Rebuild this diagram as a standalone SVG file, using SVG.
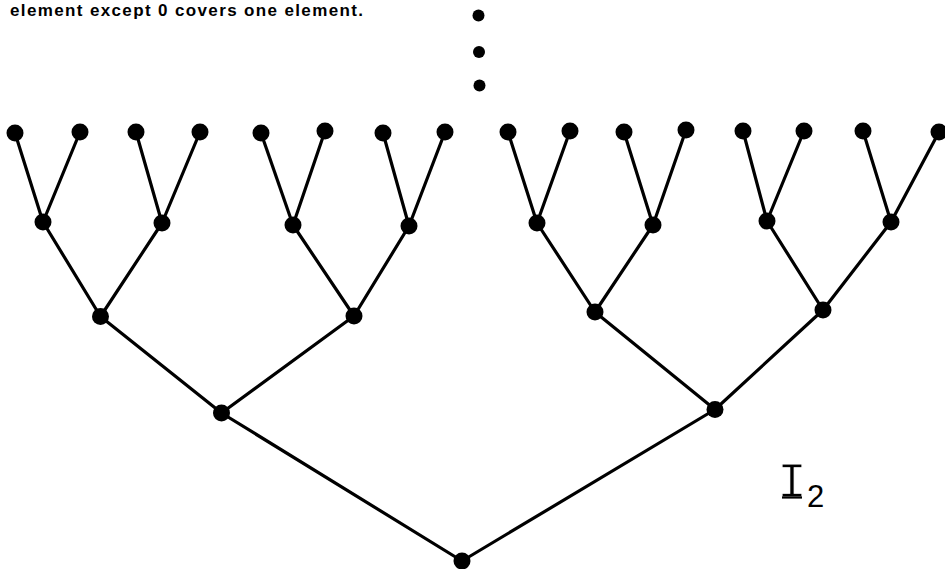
<svg xmlns="http://www.w3.org/2000/svg" width="945" height="569" viewBox="0 0 945 569">
  <style>
    .edge { stroke: #000; stroke-width: 3.2; stroke-linecap: round; fill: none; }
    .node { fill: #000; }
    .caption { font-family: "Liberation Sans", Arial, sans-serif; font-weight: bold; font-size: 17px; fill: #000; }
    .label { font-family: "Liberation Mono", "Courier New", monospace; font-size: 50px; fill: #000; stroke: #fff; stroke-width: 1.2; }
    .sub { font-family: "Liberation Sans", Arial, sans-serif; font-size: 31px; fill: #000; }
  </style>

  <rect width="945" height="569" fill="#fff"/>

  <text class="caption" x="10" y="16" textLength="353" lengthAdjust="spacing">element except 0 covers one element.</text>

  <!-- ellipsis: the tree continues upward -->
  <g id="ellipsis">
    <circle class="node" cx="478.5" cy="15.5" r="6"/>
    <circle class="node" cx="479" cy="52" r="6"/>
    <circle class="node" cx="479.5" cy="85.5" r="6"/>
  </g>

  <g id="connectors">
    <!-- leaves to level 1 -->
    <line class="edge" x1="15" y1="133" x2="43" y2="222"/>
    <line class="edge" x1="80" y1="132" x2="43" y2="222"/>
    <line class="edge" x1="136" y1="132" x2="162" y2="223"/>
    <line class="edge" x1="200" y1="132" x2="162" y2="223"/>
    <line class="edge" x1="261" y1="133" x2="293" y2="225"/>
    <line class="edge" x1="325" y1="131" x2="293" y2="225"/>
    <line class="edge" x1="383" y1="133" x2="409" y2="226"/>
    <line class="edge" x1="445" y1="132" x2="409" y2="226"/>
    <line class="edge" x1="508" y1="132" x2="537" y2="223"/>
    <line class="edge" x1="570" y1="131" x2="537" y2="223"/>
    <line class="edge" x1="624" y1="132" x2="653" y2="225"/>
    <line class="edge" x1="686" y1="130" x2="653" y2="225"/>
    <line class="edge" x1="743" y1="131" x2="767" y2="221"/>
    <line class="edge" x1="804" y1="131" x2="767" y2="221"/>
    <line class="edge" x1="863" y1="131" x2="891" y2="222"/>
    <line class="edge" x1="939" y1="132" x2="891" y2="222"/>
    <!-- level 1 to level 2 -->
    <line class="edge" x1="43" y1="222" x2="100.5" y2="316.5"/>
    <line class="edge" x1="162" y1="223" x2="100.5" y2="316.5"/>
    <line class="edge" x1="293" y1="225" x2="354" y2="316"/>
    <line class="edge" x1="409" y1="226" x2="354" y2="316"/>
    <line class="edge" x1="537" y1="223" x2="595" y2="312"/>
    <line class="edge" x1="653" y1="225" x2="595" y2="312"/>
    <line class="edge" x1="767" y1="221" x2="823" y2="310"/>
    <line class="edge" x1="891" y1="222" x2="823" y2="310"/>
    <!-- level 2 to level 3 -->
    <line class="edge" x1="100.5" y1="316.5" x2="221.5" y2="413"/>
    <line class="edge" x1="354" y1="316" x2="221.5" y2="413"/>
    <line class="edge" x1="595" y1="312" x2="715" y2="409.5"/>
    <line class="edge" x1="823" y1="310" x2="715" y2="409.5"/>
    <!-- level 3 to root -->
    <line class="edge" x1="221.5" y1="413" x2="462" y2="561"/>
    <line class="edge" x1="715" y1="409.5" x2="462" y2="561"/>
  </g>

  <!-- leaves -->
  <g id="leaf-1"><circle class="node" cx="15" cy="133" r="8.5"/></g>
  <g id="leaf-2"><circle class="node" cx="80" cy="132" r="8.5"/></g>
  <g id="leaf-3"><circle class="node" cx="136" cy="132" r="8.5"/></g>
  <g id="leaf-4"><circle class="node" cx="200" cy="132" r="8.5"/></g>
  <g id="leaf-5"><circle class="node" cx="261" cy="133" r="8.5"/></g>
  <g id="leaf-6"><circle class="node" cx="325" cy="131" r="8.5"/></g>
  <g id="leaf-7"><circle class="node" cx="383" cy="133" r="8.5"/></g>
  <g id="leaf-8"><circle class="node" cx="445" cy="132" r="8.5"/></g>
  <g id="leaf-9"><circle class="node" cx="508" cy="132" r="8.5"/></g>
  <g id="leaf-10"><circle class="node" cx="570" cy="131" r="8.5"/></g>
  <g id="leaf-11"><circle class="node" cx="624" cy="132" r="8.5"/></g>
  <g id="leaf-12"><circle class="node" cx="686" cy="130" r="8.5"/></g>
  <g id="leaf-13"><circle class="node" cx="743" cy="131" r="8.5"/></g>
  <g id="leaf-14"><circle class="node" cx="804" cy="131" r="8.5"/></g>
  <g id="leaf-15"><circle class="node" cx="863" cy="131" r="8.5"/></g>
  <g id="leaf-16"><circle class="node" cx="939" cy="132" r="8.5"/></g>

  <!-- level 1 -->
  <g id="n1-1"><circle class="node" cx="43" cy="222" r="8.5"/></g>
  <g id="n1-2"><circle class="node" cx="162" cy="223" r="8.5"/></g>
  <g id="n1-3"><circle class="node" cx="293" cy="225" r="8.5"/></g>
  <g id="n1-4"><circle class="node" cx="409" cy="226" r="8.5"/></g>
  <g id="n1-5"><circle class="node" cx="537" cy="223" r="8.5"/></g>
  <g id="n1-6"><circle class="node" cx="653" cy="225" r="8.5"/></g>
  <g id="n1-7"><circle class="node" cx="767" cy="221" r="8.5"/></g>
  <g id="n1-8"><circle class="node" cx="891" cy="222" r="8.5"/></g>

  <!-- level 2 -->
  <g id="n2-1"><circle class="node" cx="100.5" cy="316.5" r="8.5"/></g>
  <g id="n2-2"><circle class="node" cx="354" cy="316" r="8.5"/></g>
  <g id="n2-3"><circle class="node" cx="595" cy="312" r="8.5"/></g>
  <g id="n2-4"><circle class="node" cx="823" cy="310" r="8.5"/></g>

  <!-- level 3 -->
  <g id="n3-1"><circle class="node" cx="221.5" cy="413" r="8.5"/></g>
  <g id="n3-2"><circle class="node" cx="715" cy="409.5" r="8.5"/></g>

  <!-- root -->
  <g id="root"><circle class="node" cx="462" cy="561" r="8.5"/></g>

  <!-- lattice name -->
  <g id="label">
    <text class="label" x="777" y="497">I</text>
    <line x1="782" y1="497.5" x2="802" y2="497.5" stroke="#000" stroke-width="2.2"/>
    <text class="sub" x="807" y="507">2</text>
  </g>
</svg>
